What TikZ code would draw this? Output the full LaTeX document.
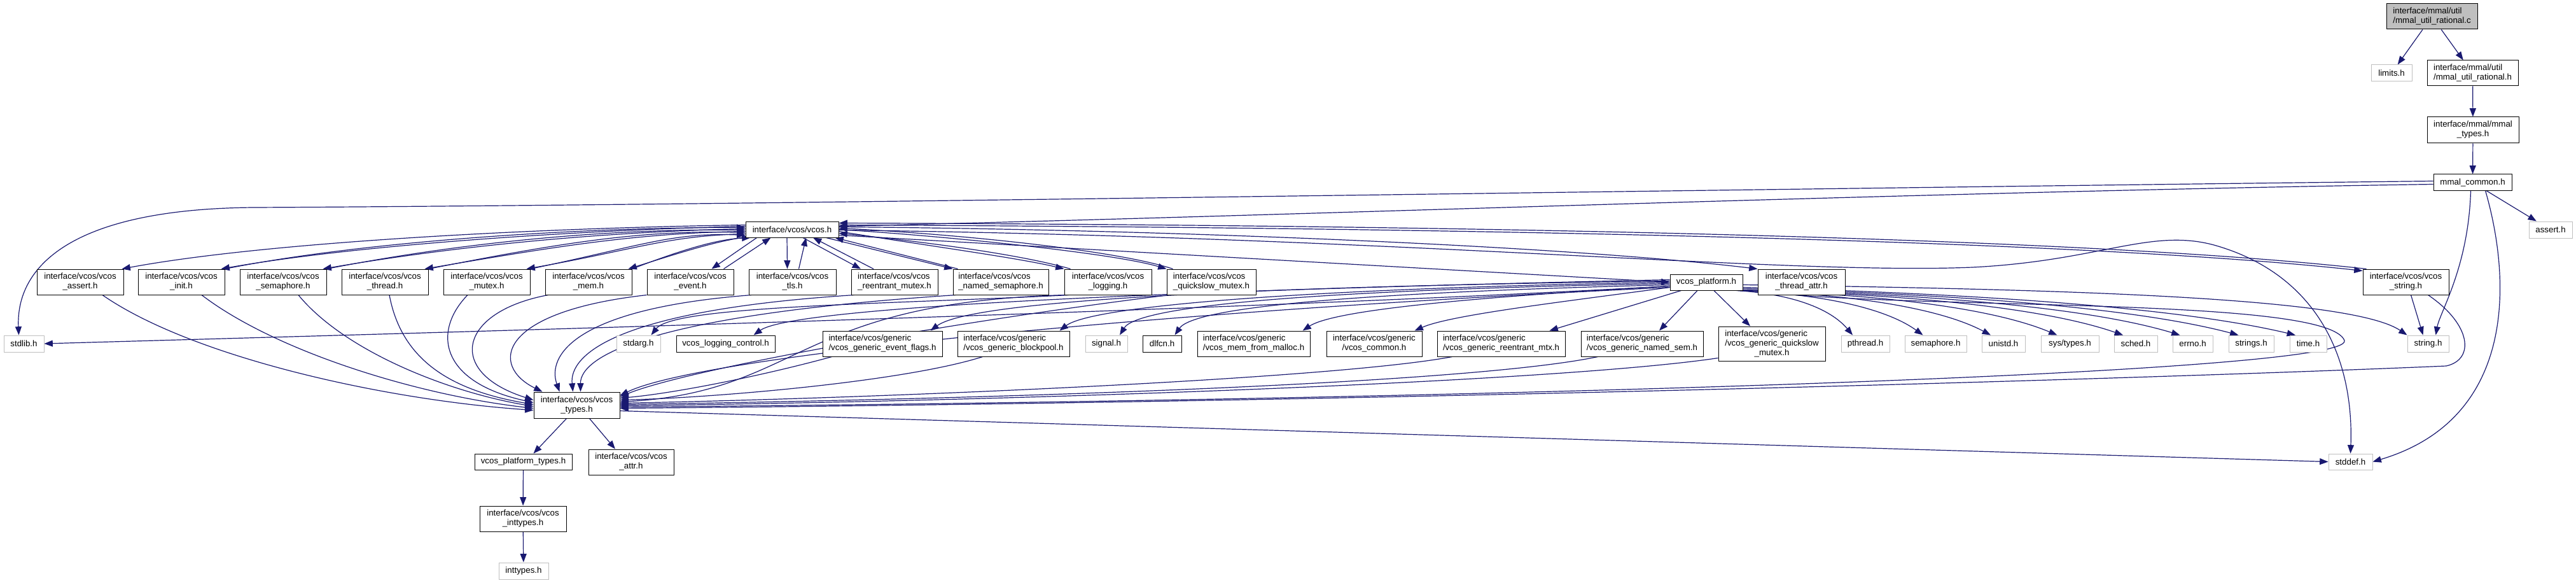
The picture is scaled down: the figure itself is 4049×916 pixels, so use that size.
\documentclass[tikz,border=0pt]{standalone}
\usepackage{fontspec}
\setmainfont{Liberation Sans}
\usetikzlibrary{arrows.meta,calc}
\definecolor{ecol}{HTML}{191970}
\definecolor{gbrd}{HTML}{BFBFBF}
\pgfdeclarelayer{bg}
\pgfsetlayers{bg,main}
\newcommand\ML[2]{\begin{tabular}{@{}l@{}}#1\\\multicolumn{1}{@{}c@{}}{#2}\end{tabular}}
\newcommand\MLL[3]{\begin{tabular}{@{}l@{}}#1\\#2\\\multicolumn{1}{@{}c@{}}{#3}\end{tabular}}
\newcommand\NB[7]{\node[#1,minimum width={(#5-#3)*0.75pt},minimum height={(#6-#4)*0.75pt}] (#2) at ({(#3+#5)/2},{(#4+#6)/2}) {#7};}
\tikzset{
  nbox/.style={draw=black,line width=0.75pt,fill=white,inner sep=0pt,font=\fontsize{10}{11.25}\selectfont},
  gbox/.style={nbox,draw=gbrd},
  rootbox/.style={nbox,fill=gbrd},
  edg/.style={draw=ecol,line width=0.9pt,-{Triangle[length=10pt,width=7.5pt]}}
}
\begin{document}
\begin{tikzpicture}[x=0.75pt,y=-0.75pt]
\useasboundingbox (0,0) rectangle (4049,916);
% top chain
\NB{rootbox}{root}{3751}{6}{3894}{46}{\ML{interface/mmal/util}{/mmal\_util\_rational.c}}
\NB{gbox}{limits}{3727}{102}{3791}{128}{limits.h}
\NB{nbox}{rational}{3815}{95}{3958}{135}{\ML{interface/mmal/util}{/mmal\_util\_rational.h}}
\NB{nbox}{mtypes}{3815}{184}{3959}{225}{\ML{interface/mmal/mmal}{\_types.h}}
\NB{nbox}{mcommon}{3825}{274}{3948}{299}{mmal\_common.h}
\NB{gbox}{assert}{3975}{348}{4043}{374}{assert.h}
\NB{nbox}{vcos}{1172}{348}{1318}{373}{interface/vcos/vcos.h}
% row 5
\NB{nbox}{vassert}{58}{423}{194}{463}{\ML{interface/vcos/vcos}{\_assert.h}}
\NB{nbox}{vinit}{217}{423}{353}{463}{\ML{interface/vcos/vcos}{\_init.h}}
\NB{nbox}{vsem}{377}{423}{513}{463}{\ML{interface/vcos/vcos}{\_semaphore.h}}
\NB{nbox}{vthread}{537}{423}{673}{463}{\ML{interface/vcos/vcos}{\_thread.h}}
\NB{nbox}{vmutex}{697}{423}{833}{463}{\ML{interface/vcos/vcos}{\_mutex.h}}
\NB{nbox}{vmem}{857}{423}{993}{463}{\ML{interface/vcos/vcos}{\_mem.h}}
\NB{nbox}{vevent}{1017}{423}{1153}{463}{\ML{interface/vcos/vcos}{\_event.h}}
\NB{nbox}{vtls}{1177}{423}{1314}{463}{\ML{interface/vcos/vcos}{\_tls.h}}
\NB{nbox}{vreent}{1338}{423}{1474}{463}{\ML{interface/vcos/vcos}{\_reentrant\_mutex.h}}
\NB{nbox}{vnamed}{1498}{423}{1648}{463}{\ML{interface/vcos/vcos}{\_named\_semaphore.h}}
\NB{nbox}{vlogging}{1673}{423}{1810}{463}{\ML{interface/vcos/vcos}{\_logging.h}}
\NB{nbox}{vqs}{1834}{423}{1974}{463}{\ML{interface/vcos/vcos}{\_quickslow\_mutex.h}}
\NB{nbox}{vplat}{2625}{431}{2739}{456}{vcos\_platform.h}
\NB{nbox}{vtattr}{2763}{423}{2900}{463}{\ML{interface/vcos/vcos}{\_thread\_attr.h}}
\NB{nbox}{vstring}{3714}{423}{3849}{463}{\ML{interface/vcos/vcos}{\_string.h}}
% row 6
\NB{gbox}{stdlib}{6}{527}{69}{553}{stdlib.h}
\NB{gbox}{stdarg}{969}{527}{1038}{553}{stdarg.h}
\NB{nbox}{vlogctl}{1063}{527}{1218}{553}{vcos\_logging\_control.h}
\NB{nbox}{gevent}{1293}{520}{1481}{560}{\ML{interface/vcos/generic}{/vcos\_generic\_event\_flags.h}}
\NB{nbox}{gblock}{1505}{520}{1681}{560}{\ML{interface/vcos/generic}{/vcos\_generic\_blockpool.h}}
\NB{gbox}{signal}{1706}{527}{1772}{553}{signal.h}
\NB{nbox}{dlfcn}{1796}{527}{1857}{553}{dlfcn.h}
\NB{nbox}{gmem}{1882}{520}{2059}{560}{\ML{interface/vcos/generic}{/vcos\_mem\_from\_malloc.h}}
\NB{nbox}{gcommon}{2085}{520}{2235}{560}{\ML{interface/vcos/generic}{/vcos\_common.h}}
\NB{nbox}{greent}{2259}{520}{2460}{560}{\ML{interface/vcos/generic}{/vcos\_generic\_reentrant\_mtx.h}}
\NB{nbox}{gnamed}{2485}{520}{2677}{560}{\ML{interface/vcos/generic}{/vcos\_generic\_named\_sem.h}}
\NB{nbox}{gqs}{2701}{513}{2869}{567}{\MLL{interface/vcos/generic}{/vcos\_generic\_quickslow}{\_mutex.h}}
\NB{gbox}{pthread}{2894}{527}{2970}{553}{pthread.h}
\NB{gbox}{semaphore}{2994}{527}{3091}{553}{semaphore.h}
\NB{gbox}{unistd}{3115}{527}{3183}{553}{unistd.h}
\NB{gbox}{systypes}{3208}{527}{3299}{553}{sys/types.h}
\NB{gbox}{sched}{3323}{527}{3391}{553}{sched.h}
\NB{gbox}{errno}{3415}{527}{3478}{553}{errno.h}
\NB{gbox}{strings}{3503}{527}{3574}{553}{strings.h}
\NB{gbox}{time}{3599}{527}{3657}{553}{time.h}
\NB{gbox}{string}{3784}{527}{3849}{553}{string.h}
% lower rows
\NB{nbox}{vtypes}{839}{616}{974}{657}{\ML{interface/vcos/vcos}{\_types.h}}
\NB{nbox}{vptypes}{746}{713}{899}{738}{vcos\_platform\_types.h}
\NB{nbox}{vattr}{925}{706}{1059}{746}{\ML{interface/vcos/vcos}{\_attr.h}}
\NB{gbox}{stddef}{3660}{713}{3729}{738}{stddef.h}
\NB{nbox}{vinttypes}{754}{795}{890}{835}{\ML{interface/vcos/vcos}{\_inttypes.h}}
\NB{gbox}{inttypes}{784}{884}{862}{910}{inttypes.h}

\begin{pgfonlayer}{bg}
% top chain
\draw[edg] (root) -- (limits);
\draw[edg] (root) -- (rational);
\draw[edg] (rational) -- (mtypes);
\draw[edg] (mtypes) -- (mcommon);
\draw[edg] ($(mcommon.west)+(0,3)$) .. controls (3000,302) and (2000,340) .. ($(vcos.east)+(0,-5)$);
\draw[edg] ($(mcommon.west)+(0,-2)$) .. controls (2500,300) and (1200,322) .. (400,326) .. controls (110,328) and (25,420) .. ($(stdlib.north)+(-8,0)$);
\draw[edg] (mcommon) -- (assert);
\draw[edg] ($(mcommon.south)+(-3,0)$) .. controls (3880,420) and (3835,490) .. ($(string.north)+(12,0)$);
\draw[edg] ($(mcommon.south)+(20,0)$) .. controls (3950,450) and (3950,660) .. (stddef.east);
% vcos.h <-> left group
\draw[edg] ($(vcos.west)+(0,-7)$) .. controls (850,358) and (420,380) .. ($(vassert.north east)+(-3,0)$);
\draw[edg] ($(vcos.west)+(0,-5)$) .. controls (900,362) and (560,385) .. ($(vinit.north east)+(-6,0)$);
\draw[edg] (vinit.north east) .. controls (565,380) and (905,357) .. ($(vcos.west)+(0,-3)$);
\draw[edg] ($(vcos.west)+(0,-1)$) .. controls (950,364) and (720,386) .. ($(vsem.north east)+(-6,0)$);
\draw[edg] (vsem.north east) .. controls (725,381) and (955,359) .. ($(vcos.west)+(0,1)$);
\draw[edg] ($(vcos.west)+(0,3)$) .. controls (1000,366) and (870,388) .. ($(vthread.north east)+(-6,0)$);
\draw[edg] (vthread.north east) .. controls (875,383) and (1005,361) .. ($(vcos.west)+(0,5)$);
\draw[edg] ($(vcos.west)+(0,7)$) .. controls (1050,370) and (1000,392) .. ($(vmutex.north east)+(-6,0)$);
\draw[edg] (vmutex.north east) .. controls (1005,387) and (1055,365) .. ($(vcos.west)+(0,9)$);
\draw[edg] ($(vcos.south west)+(0,-1)$) .. controls (1120,380) and (1060,400) .. ($(vmem.north east)+(-6,0)$);
\draw[edg] (vmem.north east) .. controls (1065,395) and (1125,376) .. ($(vcos.south west)+(8,0)$);
\draw[edg] ($(vcos.south west)+(18,0)$) -- ($(vevent.north east)+(-35,0)$);
\draw[edg] ($(vevent.north east)+(-16,0)$) -- ($(vcos.south west)+(40,0)$);
% vcos.h <-> right group
\draw[edg] ($(vcos.south)+(-8,0)$) -- ($(vtls.north)+(-8,0)$);
\draw[edg] ($(vtls.north)+(10,0)$) -- ($(vcos.south)+(22,0)$);
\draw[edg] ($(vcos.south)+(17,0)$) -- ($(vreent.north)+(-53,0)$);
\draw[edg] ($(vreent.north)+(-33,0)$) -- ($(vcos.south)+(33,0)$);
\draw[edg] ($(vcos.south east)+(-20,0)$) -- (vnamed.north west);
\draw[edg] ($(vnamed.north west)+(8,0)$) -- ($(vcos.south east)+(-6,0)$);
\draw[edg] ($(vcos.east)+(0,3)$) .. controls (1450,385) and (1600,405) .. (vlogging.north west);
\draw[edg] ($(vlogging.north west)+(10,0)$) .. controls (1605,400) and (1455,380) .. ($(vcos.east)+(0,6)$);
\draw[edg] ($(vcos.east)+(0,0)$) .. controls (1500,372) and (1750,398) .. (vqs.north west);
\draw[edg] ($(vqs.north west)+(10,0)$) .. controls (1755,393) and (1505,368) .. ($(vcos.east)+(0,-2)$);
\draw[edg] ($(vcos.east)+(0,9)$) -- (vplat.west);
\draw[edg] ($(vcos.east)+(0,-4)$) .. controls (1800,360) and (2450,385) .. (vtattr.north west);
\draw[edg] ($(vcos.east)+(0,-7)$) .. controls (2400,358) and (3300,380) .. ($(vstring.north west)+(0,3)$);
\draw[edg] ($(vstring.north west)+(6,0)$) .. controls (3305,376) and (2405,354) .. ($(vcos.east)+(0,-10)$);
\draw[edg] ($(vcos.east)+(0,1)$) .. controls (2200,372) and (2800,432) .. (3100,420) .. controls (3300,410) and (3380,358) .. (3480,385) .. controls (3640,430) and (3700,560) .. (stddef.north);
% row 5 -> vcos_types
\draw[edg] ($(vassert.south)+(35,0)$) .. controls (300,560) and (600,628) .. ($(vtypes.west)+(0,8)$);
\draw[edg] ($(vinit.south)+(32,0)$) .. controls (430,550) and (650,620) .. ($(vtypes.west)+(0,5)$);
\draw[edg] ($(vsem.south)+(24,0)$) .. controls (540,550) and (700,615) .. ($(vtypes.west)+(0,2)$);
\draw[edg] ($(vthread.south)+(7,0)$) .. controls (630,560) and (700,612) .. ($(vtypes.west)+(0,-1)$);
\draw[edg] ($(vmutex.south)+(-30,0)$) .. controls (680,520) and (690,600) .. ($(vtypes.west)+(0,-4)$);
\draw[edg] ($(vmem.south west)+(5,0)$) .. controls (720,490) and (700,585) .. ($(vtypes.west)+(0,-8)$);
\draw[edg] (vevent.south west) .. controls (780,490) and (770,575) .. ($(vtypes.north west)+(14,0)$);
\draw[edg] ($(vtls.south west)+(5,0)$) .. controls (900,485) and (860,560) .. ($(vtypes.north west)+(41,0)$);
\draw[edg] ($(vreent.south west)+(5,0)$) .. controls (960,488) and (895,560) .. ($(vtypes.north)+(-6,0)$);
\draw[edg] ($(vnamed.south west)+(5,0)$) .. controls (1020,495) and (912,560) .. ($(vtypes.north)+(6,0)$);
\draw[edg] ($(vqs.south west)+(4,0)$) .. controls (1500,505) and (1080,580) .. ($(vtypes.east)+(0,-13)$);
\draw[edg] ($(vlogging.south west)+(2,0)$) .. controls (1250,475) and (1260,615) .. ($(vtypes.east)+(0,-5)$);
\draw[edg] ($(vlogging.south west)+(8,0)$) .. controls (1400,478) and (1060,480) .. ($(stdarg.north)+(20,0)$);
% generic -> vcos_types
\draw[edg] ($(gevent.south west)+(15,0)$) .. controls (1200,590) and (1060,618) .. ($(vtypes.east)+(0,-11)$);
\draw[edg] ($(gblock.south west)+(40,0)$) .. controls (1420,600) and (1120,625) .. ($(vtypes.east)+(0,-8)$);
\draw[edg] ($(greent.south west)+(24,0)$) .. controls (2100,595) and (1400,625) .. ($(vtypes.east)+(0,-3)$);
\draw[edg] ($(gnamed.south west)+(27,0)$) .. controls (2300,605) and (1500,628) .. ($(vtypes.east)+(0,-1)$);
\draw[edg] ($(gqs.south west)+(0,-5)$) .. controls (2450,600) and (1600,630) .. ($(vtypes.east)+(0,1)$);
\draw[edg] ($(vtattr.south)+(-10,0)$) .. controls (3100,485) and (3660,470) .. (3685,535) .. controls (3700,590) and (2200,630) .. ($(vtypes.east)+(0,3)$);
\draw[edg] ($(vstring.south)+(35,0)$) .. controls (3885,510) and (3890,565) .. (3845,575) .. controls (3500,590) and (2300,630) .. ($(vtypes.east)+(0,5)$);
\draw[edg] ($(vstring.south)+(8,0)$) -- ($(string.north)+(-8,0)$);
% vcos_platform.h fan-out (left)
\draw[edg] ($(vplat.south)+(12,0)$) -- ($(gqs.north)+(-34,0)$);
\draw[edg] ($(vplat.south)+(-14,0)$) -- ($(gnamed.north)+(27,0)$);
\draw[edg] ($(vplat.south west)+(18,0)$) -- ($(greent.north)+(76,0)$);
\draw[edg] ($(vplat.west)+(0,8)$) .. controls (2450,475) and (2280,495) .. ($(gcommon.north east)+(-12,0)$);
\draw[edg] ($(vplat.west)+(0,6)$) .. controls (2350,465) and (2100,485) .. ($(gmem.north east)+(-12,0)$);
\draw[edg] ($(vplat.west)+(0,4)$) .. controls (2200,458) and (1880,478) .. ($(dlfcn.north)+(20,0)$);
\draw[edg] ($(vplat.west)+(0,2)$) .. controls (2100,455) and (1790,478) .. ($(signal.north)+(21,0)$);
\draw[edg] ($(vplat.west)+(0,0)$) .. controls (2100,452) and (1720,478) .. ($(gblock.north east)+(-16,0)$);
\draw[edg] ($(vplat.west)+(0,-2)$) .. controls (2000,450) and (1530,470) .. ($(gevent.north east)+(-19,0)$);
\draw[edg] ($(vplat.west)+(0,-4)$) .. controls (1900,455) and (1250,480) .. ($(vlogctl.north east)+(-34,0)$);
\draw[edg] ($(vplat.west)+(0,6)$) .. controls (1900,490) and (700,522) .. (stdlib.east);
\draw[edg] ($(vplat.west)+(0,8)$) .. controls (1800,490) and (1100,560) .. ($(vtypes.east)+(0,-15)$);
% vcos_platform.h fan-out (right)
\draw[edg] ($(vplat.south east)+(-10,0)$) .. controls (2817,462) and (2877,485) .. ($(pthread.north)+(-20,0)$);
\draw[edg] ($(vplat.south east)+(-8,0)$) .. controls (2866,462) and (2965,485) .. ($(semaphore.north)+(-20,0)$);
\draw[edg] ($(vplat.south east)+(-6,0)$) .. controls (2915,462) and (3051,485) .. ($(unistd.north)+(-20,0)$);
\draw[edg] ($(vplat.south east)+(-4,0)$) .. controls (2961,462) and (3134,485) .. ($(systypes.north)+(-20,0)$);
\draw[edg] ($(vplat.south east)+(-2,0)$) .. controls (3008,462) and (3217,485) .. ($(sched.north)+(-20,0)$);
\draw[edg] ($(vplat.south east)+(0,-1)$) .. controls (3048,462) and (3289,485) .. ($(errno.north)+(-20,0)$);
\draw[edg] ($(vplat.south east)+(0,-3)$) .. controls (3090,462) and (3362,485) .. ($(strings.north)+(-20,0)$);
\draw[edg] ($(vplat.south east)+(0,-5)$) .. controls (3130,462) and (3434,485) .. ($(time.north)+(-20,0)$);
\draw[edg] ($(vplat.east)+(0,4)$) .. controls (3300,455) and (3700,470) .. (string.north west);
% vcos_types.h down
\draw[edg] ($(vtypes.east)+(0,9)$) -- (stddef.west);
\draw[edg] ($(vtypes.south)+(-16,0)$) -- ($(vptypes.north)+(16,0)$);
\draw[edg] ($(vtypes.south)+(20,0)$) -- ($(vattr.north)+(-25,0)$);
\draw[edg] (vptypes) -- (vinttypes);
\draw[edg] (vinttypes) -- (inttypes);
\end{pgfonlayer}
\end{tikzpicture}
\end{document}
